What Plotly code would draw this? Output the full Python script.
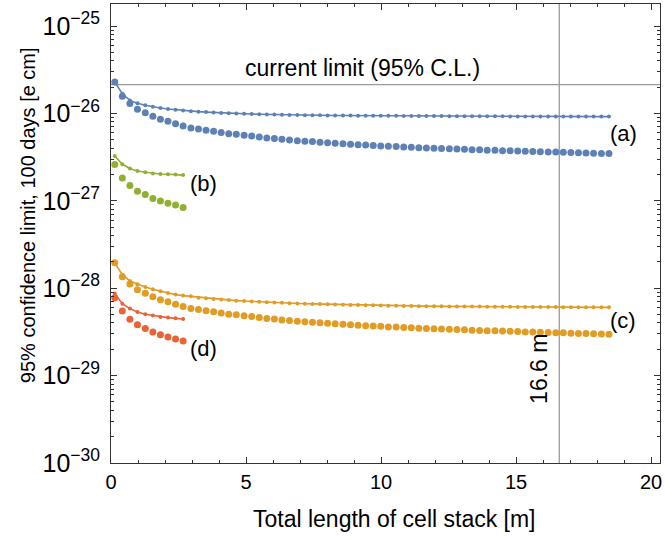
import math
import plotly.graph_objects as go

# ---------------- data ----------------
x_long = [0.14, 0.42, 0.70, 0.98, 1.27, 1.55, 1.83, 2.11, 2.39, 2.67,
          2.96, 3.24, 3.52, 3.80, 4.08, 4.36, 4.64, 4.93, 5.21, 5.49,
          5.77, 6.05, 6.33, 6.61, 6.90, 7.18, 7.46, 7.74, 8.02, 8.30,
          8.59, 8.87, 9.15, 9.43, 9.71, 9.99, 10.27, 10.56, 10.84, 11.12,
          11.40, 11.68, 11.96, 12.24, 12.53, 12.81, 13.09, 13.37, 13.65, 13.93,
          14.22, 14.50, 14.78, 15.06, 15.34, 15.62, 15.90, 16.19, 16.47, 16.75,
          17.03, 17.31, 17.59, 17.87, 18.16, 18.44]
x_short = [0.14, 0.42, 0.70, 0.98, 1.27, 1.55, 1.83, 2.11, 2.39, 2.67]

a_line = [2.29e-26, 1.68e-26, 1.41e-26, 1.305e-26, 1.238e-26, 1.190e-26, 1.153e-26, 1.123e-26, 1.100e-26, 1.080e-26,
          1.062e-26, 1.048e-26, 1.035e-26, 1.024e-26, 1.013e-26, 1.005e-26, 9.97e-27, 9.89e-27, 9.84e-27, 9.79e-27,
          9.74e-27, 9.69e-27, 9.66e-27, 9.61e-27, 9.59e-27, 9.56e-27, 9.54e-27, 9.51e-27, 9.49e-27, 9.46e-27,
          9.45e-27, 9.44e-27, 9.43e-27, 9.42e-27, 9.41e-27, 9.40e-27, 9.39e-27, 9.38e-27, 9.37e-27, 9.36e-27,
          9.35e-27, 9.34e-27, 9.33e-27, 9.32e-27, 9.31e-27, 9.30e-27, 9.30e-27, 9.29e-27, 9.28e-27, 9.27e-27,
          9.27e-27, 9.26e-27, 9.25e-27, 9.25e-27, 9.24e-27, 9.23e-27, 9.23e-27, 9.22e-27, 9.22e-27, 9.21e-27,
          9.21e-27, 9.20e-27, 9.20e-27, 9.19e-27, 9.19e-27, 9.19e-27]
a_dots = [2.29e-26, 1.569e-26, 1.295e-26, 1.114e-26, 1.021e-26, 9.26e-27, 8.56e-27, 8.12e-27, 7.64e-27, 7.17e-27,
          6.81e-27, 6.63e-27, 6.41e-27, 6.24e-27, 6.03e-27, 5.87e-27, 5.77e-27, 5.62e-27, 5.51e-27, 5.37e-27,
          5.23e-27, 5.15e-27, 5.05e-27, 4.96e-27, 4.88e-27, 4.79e-27, 4.76e-27, 4.67e-27, 4.63e-27, 4.55e-27,
          4.51e-27, 4.43e-27, 4.38e-27, 4.34e-27, 4.29e-27, 4.25e-27, 4.20e-27, 4.17e-27, 4.13e-27, 4.09e-27,
          4.06e-27, 4.03e-27, 4.00e-27, 3.97e-27, 3.94e-27, 3.92e-27, 3.88e-27, 3.85e-27, 3.83e-27, 3.80e-27,
          3.78e-27, 3.75e-27, 3.73e-27, 3.71e-27, 3.68e-27, 3.66e-27, 3.65e-27, 3.63e-27, 3.61e-27, 3.59e-27,
          3.56e-27, 3.54e-27, 3.52e-27, 3.50e-27, 3.48e-27, 3.47e-27]

b_line = [3.26e-27, 2.62e-27, 2.34e-27, 2.19e-27, 2.12e-27, 2.06e-27, 2.03e-27, 2.01e-27, 1.995e-27, 1.97e-27]
b_dots = [2.60e-27, 1.82e-27, 1.50e-27, 1.29e-27, 1.18e-27, 1.06e-27, 9.95e-28, 9.36e-28, 8.95e-28, 8.36e-28]

c_line = [1.94e-28, 1.43e-28, 1.21e-28, 1.108e-28, 1.032e-28, 9.71e-29, 9.21e-29, 8.81e-29, 8.45e-29, 8.23e-29,
          8.08e-29, 7.80e-29, 7.66e-29, 7.52e-29, 7.41e-29, 7.31e-29, 7.21e-29, 7.14e-29, 7.06e-29, 6.99e-29,
          6.91e-29, 6.86e-29, 6.81e-29, 6.75e-29, 6.70e-29, 6.65e-29, 6.61e-29, 6.58e-29, 6.54e-29, 6.51e-29,
          6.47e-29, 6.44e-29, 6.42e-29, 6.40e-29, 6.37e-29, 6.35e-29, 6.32e-29, 6.29e-29, 6.25e-29, 6.24e-29,
          6.23e-29, 6.22e-29, 6.21e-29, 6.20e-29, 6.19e-29, 6.18e-29, 6.17e-29, 6.17e-29, 6.16e-29, 6.15e-29,
          6.14e-29, 6.13e-29, 6.12e-29, 6.11e-29, 6.11e-29, 6.10e-29, 6.09e-29, 6.08e-29, 6.08e-29, 6.07e-29,
          6.06e-29, 6.06e-29, 6.05e-29, 6.05e-29, 6.04e-29, 6.04e-29]
c_dots = [1.95e-28, 1.35e-28, 1.114e-28, 9.58e-29, 8.78e-29, 7.96e-29, 7.36e-29, 6.98e-29, 6.57e-29, 6.17e-29,
          5.86e-29, 5.70e-29, 5.51e-29, 5.37e-29, 5.19e-29, 5.05e-29, 4.96e-29, 4.83e-29, 4.74e-29, 4.62e-29,
          4.50e-29, 4.43e-29, 4.34e-29, 4.27e-29, 4.20e-29, 4.12e-29, 4.09e-29, 4.02e-29, 3.98e-29, 3.91e-29,
          3.88e-29, 3.81e-29, 3.77e-29, 3.73e-29, 3.69e-29, 3.66e-29, 3.61e-29, 3.59e-29, 3.55e-29, 3.52e-29,
          3.49e-29, 3.47e-29, 3.44e-29, 3.41e-29, 3.39e-29, 3.37e-29, 3.34e-29, 3.31e-29, 3.29e-29, 3.27e-29,
          3.25e-29, 3.23e-29, 3.21e-29, 3.19e-29, 3.16e-29, 3.15e-29, 3.14e-29, 3.12e-29, 3.10e-29, 3.09e-29,
          3.06e-29, 3.04e-29, 3.03e-29, 3.01e-29, 2.99e-29, 2.98e-29]

d_line = [8.68e-29, 6.66e-29, 5.84e-29, 5.34e-29, 5.03e-29, 4.86e-29, 4.68e-29, 4.61e-29, 4.52e-29, 4.44e-29]
d_dots = [7.80e-29, 5.48e-29, 4.41e-29, 3.83e-29, 3.45e-29, 3.15e-29, 2.94e-29, 2.76e-29, 2.62e-29, 2.49e-29]

current_limit = 2.14e-26
stack_length = 16.6
x_range = [0, 20.33]
y_range_exp = [-30, -24.748]

series_labels = ["(a)", "(b)", "(c)", "(d)"]
label_pos = [(18.96, 5.9e-27), (3.44, 1.58e-27), (18.96, 4.3e-29), (3.44, 2.05e-29)]

x_title = "Total length of cell stack [m]"
y_title = "95% confidence limit, 100 days [e cm]"

COL_A = "#5E81B5"
COL_B = "#8FB032"
COL_C = "#E19C24"
COL_D = "#EB6235"
FONT = "Liberation Sans, Arial, sans-serif"

fig = go.Figure()

# reference lines
fig.add_trace(go.Scatter(x=x_range, y=[current_limit, current_limit], mode="lines",
                         line=dict(color="#9a9a9a", width=1.3), hoverinfo="skip", showlegend=False))
fig.add_trace(go.Scatter(x=[stack_length, stack_length],
                         y=[10 ** y_range_exp[0], 10 ** y_range_exp[1]], mode="lines",
                         line=dict(color="#9a9a9a", width=1.3), hoverinfo="skip", showlegend=False))

for xs, yl, yd, col in [(x_long, a_line, a_dots, COL_A), (x_short, b_line, b_dots, COL_B),
                         (x_long, c_line, c_dots, COL_C), (x_short, d_line, d_dots, COL_D)]:
    fig.add_trace(go.Scatter(x=xs, y=yd, mode="markers",
                             marker=dict(color=col, size=7, line=dict(width=0)), showlegend=False))
    fig.add_trace(go.Scatter(x=xs, y=yl, mode="lines+markers",
                             line=dict(color=col, width=1.6),
                             marker=dict(color=col, size=4, line=dict(width=0)), showlegend=False))

# labels
for lab, (lx, ly) in zip(series_labels, label_pos):
    fig.add_annotation(x=lx, y=math.log10(ly), text=lab, showarrow=False,
                       font=dict(family=FONT, size=22, color="black"))

fig.add_annotation(x=9.30, y=math.log10(current_limit) + 0.19, text="current limit (95% C.L.)",
                   showarrow=False, font=dict(family=FONT, size=23, color="black"))
fig.add_annotation(x=stack_length, y=-28.92, text="%.1f m" % stack_length, textangle=-90,
                   showarrow=False, xanchor="center", xshift=-21,
                   font=dict(family=FONT, size=23, color="black"))

# axis titles
fig.add_annotation(xref="paper", yref="paper", x=0.5155, y=-0.122, text=x_title,
                   showarrow=False, xanchor="center", yanchor="middle",
                   font=dict(family=FONT, size=23, color="black"))
fig.add_annotation(xref="paper", yref="paper", x=-0.1512, y=0.540, text=y_title,
                   textangle=-90, showarrow=False, xanchor="center", yanchor="middle",
                   font=dict(family=FONT, size=20, color="black"))

axis_common = dict(showline=True, linecolor="#333333", linewidth=1, mirror="ticks",
                   ticks="inside", tickcolor="#333333", showgrid=False, zeroline=False,
                   automargin=False,
                   tickfont=dict(family=FONT, size=20, color="black"))

fig.update_xaxes(range=x_range, dtick=5, tick0=0, ticklen=6,
                 minor=dict(dtick=1, ticks="inside", ticklen=3, tickcolor="#333333", showgrid=False),
                 ticklabelstandoff=1, **axis_common)
fig.update_yaxes(type="log", range=y_range_exp, dtick=1, exponentformat="power", ticklen=6,
                 minor=dict(dtick="D1", ticks="inside", ticklen=3, tickcolor="#333333", showgrid=False),
                 ticklabelstandoff=6, **axis_common)

fig.update_layout(width=665, height=539, margin=dict(l=111, r=5, t=4, b=76),
                  plot_bgcolor="white", paper_bgcolor="white", showlegend=False,
                  font=dict(family=FONT, color="black"))

fig.write_html("out.html", config={"displayModeBar": False},
               post_script="document.body.style.margin='0';document.body.style.overflow='hidden';")
